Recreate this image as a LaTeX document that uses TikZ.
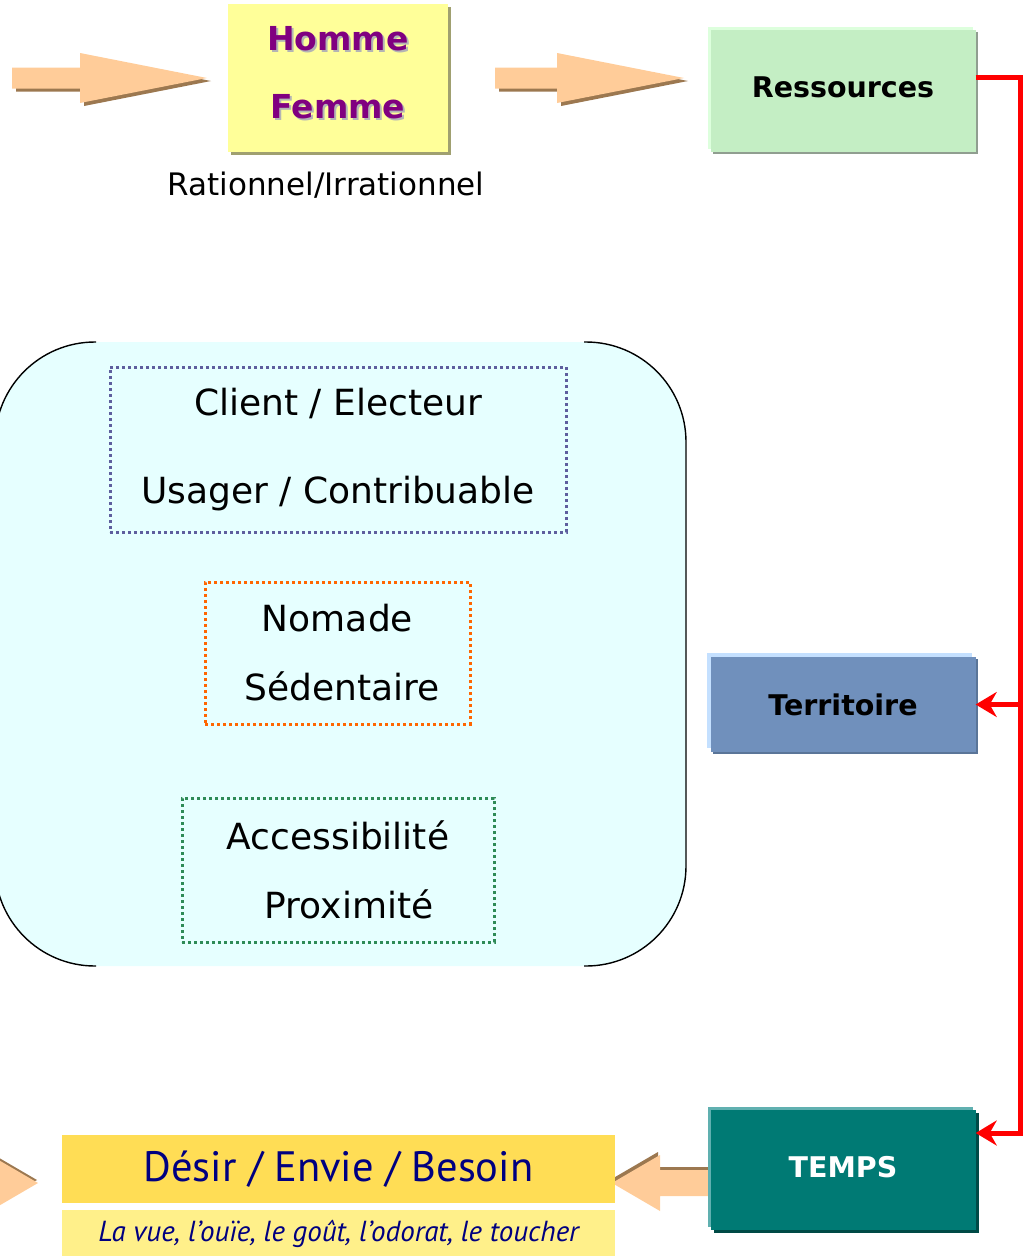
\documentclass[tikz,border=0pt]{standalone}
\usepackage{fontspec}
\setmainfont{DejaVu Sans}
\newfontfamily\ptsans{PT Sans}
\usetikzlibrary{shadows,arrows.meta}

\definecolor{hommeyellow}{HTML}{FFFF99}
\definecolor{hommeshadow}{HTML}{A0A070}
\definecolor{hommepurple}{HTML}{800080}
\definecolor{textshadow}{HTML}{B4B4B4}
\definecolor{ressgreen}{HTML}{C4EEC4}
\definecolor{ressglow}{HTML}{DDFFDD}
\definecolor{ressshadow}{HTML}{909E90}
\definecolor{terrblue}{HTML}{7090BC}
\definecolor{terrglow}{HTML}{C4E0FF}
\definecolor{terrdark}{HTML}{5A7598}
\definecolor{tempsteal}{HTML}{007A74}
\definecolor{tempslight}{HTML}{60B0B0}
\definecolor{tempsdark}{HTML}{004A46}
\definecolor{desirgold}{HTML}{FFDD55}
\definecolor{sensgold}{HTML}{FFF08A}
\definecolor{navy}{HTML}{000080}
\definecolor{peach}{HTML}{FFCC99}
\definecolor{peachshadow}{HTML}{9C7850}
\definecolor{bracketfill}{HTML}{E6FFFF}
\definecolor{clientblue}{HTML}{5E5E9E}
\definecolor{nomadorange}{HTML}{FF6600}
\definecolor{accgreen}{HTML}{2E8B57}

% text with a grey copy behind it
\newcommand\shadowed[1]{\makebox[0pt][l]{\hspace{2pt}\raisebox{-2pt}{\color{textshadow}#1}}#1}
% tail, neck, tip, y, half shaft, half head, shadow dx, shadow dy
\newcommand\peacharrow[8]{%
  \foreach \dx/\dy/\col in {#7/#8/peachshadow,0/0/peach}
    \fill[\col, shift={(\dx,\dy)}] (#1,#4-#5) -- (#2,#4-#5) -- (#2,#4-#6) -- (#3,#4)
      -- (#2,#4+#6) -- (#2,#4+#5) -- (#1,#4+#5) -- cycle;}

\begin{document}
\begin{tikzpicture}[x=1pt,y=-1pt,
    bigbox/.style={rectangle, minimum width=265pt, inner sep=0pt,
      font=\fontsize{28.5}{32}\selectfont\bfseries},
    dotbox/.style={rectangle, dash pattern=on 3pt off 3pt, line width=3pt,
      align=center, inner sep=0pt, font=\fontsize{36}{88}\selectfont},
    redline/.style={draw=red, line width=5pt, line join=miter,
      -{Stealth[length=21pt,width=25pt,inset=7pt]}}]
  \useasboundingbox (0,0) rectangle (1032,1256);

  % big bracket area
  \fill[bracketfill, rounded corners=100pt] (-5,342) rectangle (686,966);
  \draw[line width=1.4pt, rounded corners=100pt] (96,342) -- (-5,342) -- (-5,966) -- (96,966);
  \draw[line width=1.4pt, rounded corners=100pt] (584,342) -- (686,342) -- (686,966) -- (584,966);

  % block arrows
  \peacharrow{12}{80}{207}{78}{10.5}{25}{4}{3}
  \peacharrow{495}{557}{684}{78}{10.5}{25}{4}{3}
  \peacharrow{712}{660}{612}{1183}{13}{28}{-2}{-3}
  \peacharrow{-60}{-10}{38}{1183}{13}{28}{-1}{-3}

  \node[rectangle, fill=hommeyellow, minimum width=220pt, minimum height=148pt,
        inner sep=0pt, align=center, text=hommepurple,
        font=\fontsize{33}{68}\selectfont\bfseries,
        drop shadow={shadow xshift=3pt, shadow yshift=-3pt, fill=hommeshadow, opacity=1}]
        (homme) at (338,78) {\shadowed{Homme}\\\shadowed{Femme}\rule[-12pt]{0pt}{12pt}};
  \node[anchor=base, font=\fontsize{31}{36}\selectfont] (raison) at (326,195) {Rationnel/Irrationnel};

  \node[bigbox, fill=ressgreen, minimum height=122pt,
        drop shadow={shadow xshift=-3pt, shadow yshift=3pt, fill=ressglow, opacity=1},
        drop shadow={shadow xshift=2pt, shadow yshift=-2pt, fill=ressshadow, opacity=1}]
        (ress) at (843,91) {\raisebox{8pt}{Ressources}};
  \node[bigbox, fill=terrblue, minimum height=95pt,
        drop shadow={shadow xshift=-4pt, shadow yshift=4pt, fill=terrglow, opacity=1},
        drop shadow={shadow xshift=2pt, shadow yshift=-2pt, fill=terrdark, opacity=1}]
        (terr) at (843,704.5) {Territoire};
  \node[bigbox, fill=tempsteal, text=white, minimum height=120pt,
        drop shadow={shadow xshift=-3pt, shadow yshift=3pt, fill=tempslight, opacity=1},
        drop shadow={shadow xshift=3pt, shadow yshift=-3pt, fill=tempsdark, opacity=1}]
        (temps) at (843,1170) {\raisebox{7pt}{TEMPS}};

  \node[dotbox, draw=clientblue, minimum width=456pt, minimum height=165pt]
        (client) at (338,449.5) {Client / Electeur\\Usager / Contribuable};
  \node[dotbox, draw=nomadorange, minimum width=265pt, minimum height=142pt,
        font=\fontsize{36}{69}\selectfont]
        (nomade) at (337.5,653) {Nomade\\\hspace*{10pt}Sédentaire};
  \node[dotbox, draw=accgreen, minimum width=312pt, minimum height=144pt,
        font=\fontsize{36}{69}\selectfont]
        (acces) at (338,870) {Accessibilité\\\hspace*{22pt}Proximité};

  \node[rectangle, fill=desirgold, minimum width=553pt, minimum height=68pt, inner sep=0pt,
        text=navy, font=\ptsans\fontsize{42.5}{48}\selectfont]
        (desir) at (338.5,1169) {Désir / Envie / Besoin};
  \node[rectangle, fill=sensgold, minimum width=553pt, minimum height=48pt, inner sep=0pt,
        text=navy, font=\ptsans\itshape\fontsize{29}{32}\selectfont]
        (sens) at (338.5,1234) {La vue, l’ouïe, le goût, l’odorat, le toucher};

  % red links
  \coordinate (railtop) at (1020,77);
  \coordinate (railbot) at (1020,1133);
  \draw[redline] ([yshift=14pt]ress.east) -- (railtop) -- (railbot) -- ([yshift=37pt]temps.east);
  \draw[redline] (railtop |- terr.east) -- (terr.east);
\end{tikzpicture}
\end{document}
